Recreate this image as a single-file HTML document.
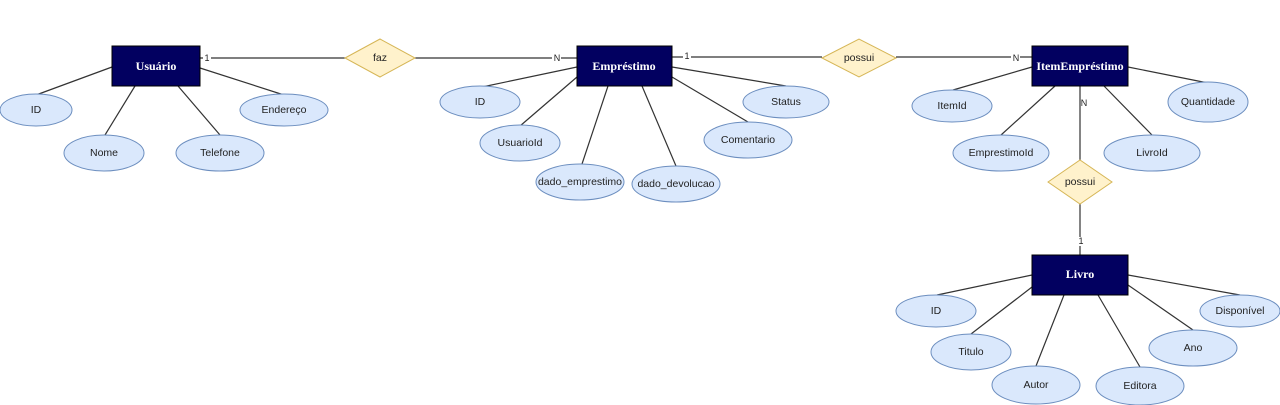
<!DOCTYPE html>
<html><head><meta charset="utf-8"><style>
html,body{margin:0;padding:0;background:#fff;}
svg{display:block;}
.e{fill:#dae8fc;stroke:#6c8ebf;stroke-width:1;}
.d{fill:#fff2cc;stroke:#d6b656;stroke-width:1;}
.b{fill:#020060;stroke:#000;}
.l{stroke:#333;stroke-width:1.2;fill:none;}
.t{font-family:"Liberation Sans",sans-serif;font-size:10.5px;fill:#222;text-anchor:middle;dominant-baseline:central;}
.h{font-family:"Liberation Serif",serif;font-size:12px;font-weight:bold;fill:#fff;text-anchor:middle;dominant-baseline:central;}
.c{font-family:"Liberation Sans",sans-serif;font-size:9px;fill:#222;text-anchor:middle;dominant-baseline:central;}
</style></head><body>
<svg width="1280" height="405" viewBox="0 0 1280 405" xmlns="http://www.w3.org/2000/svg">
<path class="l" d="M200 58 H345 M415 58 H577 M672 57 H822 M896 57 H1032 M1080 86 V160 M1080 204 V255"/>
<path class="l" d="M112 67 L36 95 M135 86 L105 135 M178 86 L220 135 M200 68 L284 95"/>
<path class="l" d="M577 67 L482 87 M577 77 L520 126 M608 86 L582 164 M642 86 L676 166 M672 77 L748 122 M672 67 L786 86"/>
<path class="l" d="M1032 67 L953 90 M1055 86 L1001 135 M1104 86 L1152 135 M1128 67 L1208 83"/>
<path class="l" d="M1032 275 L937 295 M1032 287 L971 334 M1064 295 L1036 366 M1098 295 L1140 367 M1128 285 L1193 330 M1128 275 L1240 295"/>
<rect x="203" y="54" width="8" height="9" fill="#fff"/><text class="c" x="207" y="58">1</text>
<rect x="552" y="54" width="9" height="9" fill="#fff"/><text class="c" x="557" y="58">N</text>
<rect x="683" y="52" width="8" height="9" fill="#fff"/><text class="c" x="687" y="56">1</text>
<rect x="1011" y="54" width="9" height="9" fill="#fff"/><text class="c" x="1016" y="58">N</text>
<text class="c" x="1084" y="103">N</text>
<rect x="1076" y="237" width="8" height="9" fill="#fff"/><text class="c" x="1081" y="241">1</text>
<polygon class="d" points="345,58 380,39 415,58 380,77"/><text class="t" x="380" y="58">faz</text>
<polygon class="d" points="822,58 859,39 896,58 859,77"/><text class="t" x="859" y="58">possui</text>
<polygon class="d" points="1048,182 1080,160 1112,182 1080,204"/><text class="t" x="1080" y="182">possui</text>
<rect class="b" x="112" y="46" width="88" height="40"/><text class="h" x="156" y="66">Usuário</text>
<rect class="b" x="577" y="46" width="95" height="40"/><text class="h" x="624" y="66">Empréstimo</text>
<rect class="b" x="1032" y="46" width="96" height="40"/><text class="h" x="1080" y="66">ItemEmpréstimo</text>
<rect class="b" x="1032" y="255" width="96" height="40"/><text class="h" x="1080" y="274">Livro</text>
<ellipse class="e" cx="36" cy="110" rx="36" ry="16"/><text class="t" x="36" y="110">ID</text>
<ellipse class="e" cx="104" cy="153" rx="40" ry="18"/><text class="t" x="104" y="153">Nome</text>
<ellipse class="e" cx="220" cy="153" rx="44" ry="18"/><text class="t" x="220" y="153">Telefone</text>
<ellipse class="e" cx="284" cy="110" rx="44" ry="16"/><text class="t" x="284" y="110">Endereço</text>
<ellipse class="e" cx="480" cy="102" rx="40" ry="16"/><text class="t" x="480" y="102">ID</text>
<ellipse class="e" cx="520" cy="143" rx="40" ry="18"/><text class="t" x="520" y="143">UsuarioId</text>
<ellipse class="e" cx="580" cy="182" rx="44" ry="18"/><text class="t" x="580" y="182">dado_emprestimo</text>
<ellipse class="e" cx="676" cy="184" rx="44" ry="18"/><text class="t" x="676" y="184">dado_devolucao</text>
<ellipse class="e" cx="748" cy="140" rx="44" ry="18"/><text class="t" x="748" y="140">Comentario</text>
<ellipse class="e" cx="786" cy="102" rx="43" ry="16"/><text class="t" x="786" y="102">Status</text>
<ellipse class="e" cx="952" cy="106" rx="40" ry="16"/><text class="t" x="952" y="106">ItemId</text>
<ellipse class="e" cx="1001" cy="153" rx="48" ry="18"/><text class="t" x="1001" y="153">EmprestimoId</text>
<ellipse class="e" cx="1152" cy="153" rx="48" ry="18"/><text class="t" x="1152" y="153">LivroId</text>
<ellipse class="e" cx="1208" cy="102" rx="40" ry="20"/><text class="t" x="1208" y="102">Quantidade</text>
<ellipse class="e" cx="936" cy="311" rx="40" ry="16"/><text class="t" x="936" y="311">ID</text>
<ellipse class="e" cx="971" cy="352" rx="40" ry="18"/><text class="t" x="971" y="352">Titulo</text>
<ellipse class="e" cx="1036" cy="385" rx="44" ry="19"/><text class="t" x="1036" y="385">Autor</text>
<ellipse class="e" cx="1140" cy="386" rx="44" ry="19"/><text class="t" x="1140" y="386">Editora</text>
<ellipse class="e" cx="1193" cy="348" rx="44" ry="18"/><text class="t" x="1193" y="348">Ano</text>
<ellipse class="e" cx="1240" cy="311" rx="40" ry="16"/><text class="t" x="1240" y="311">Disponível</text>
</svg>
</body></html>
